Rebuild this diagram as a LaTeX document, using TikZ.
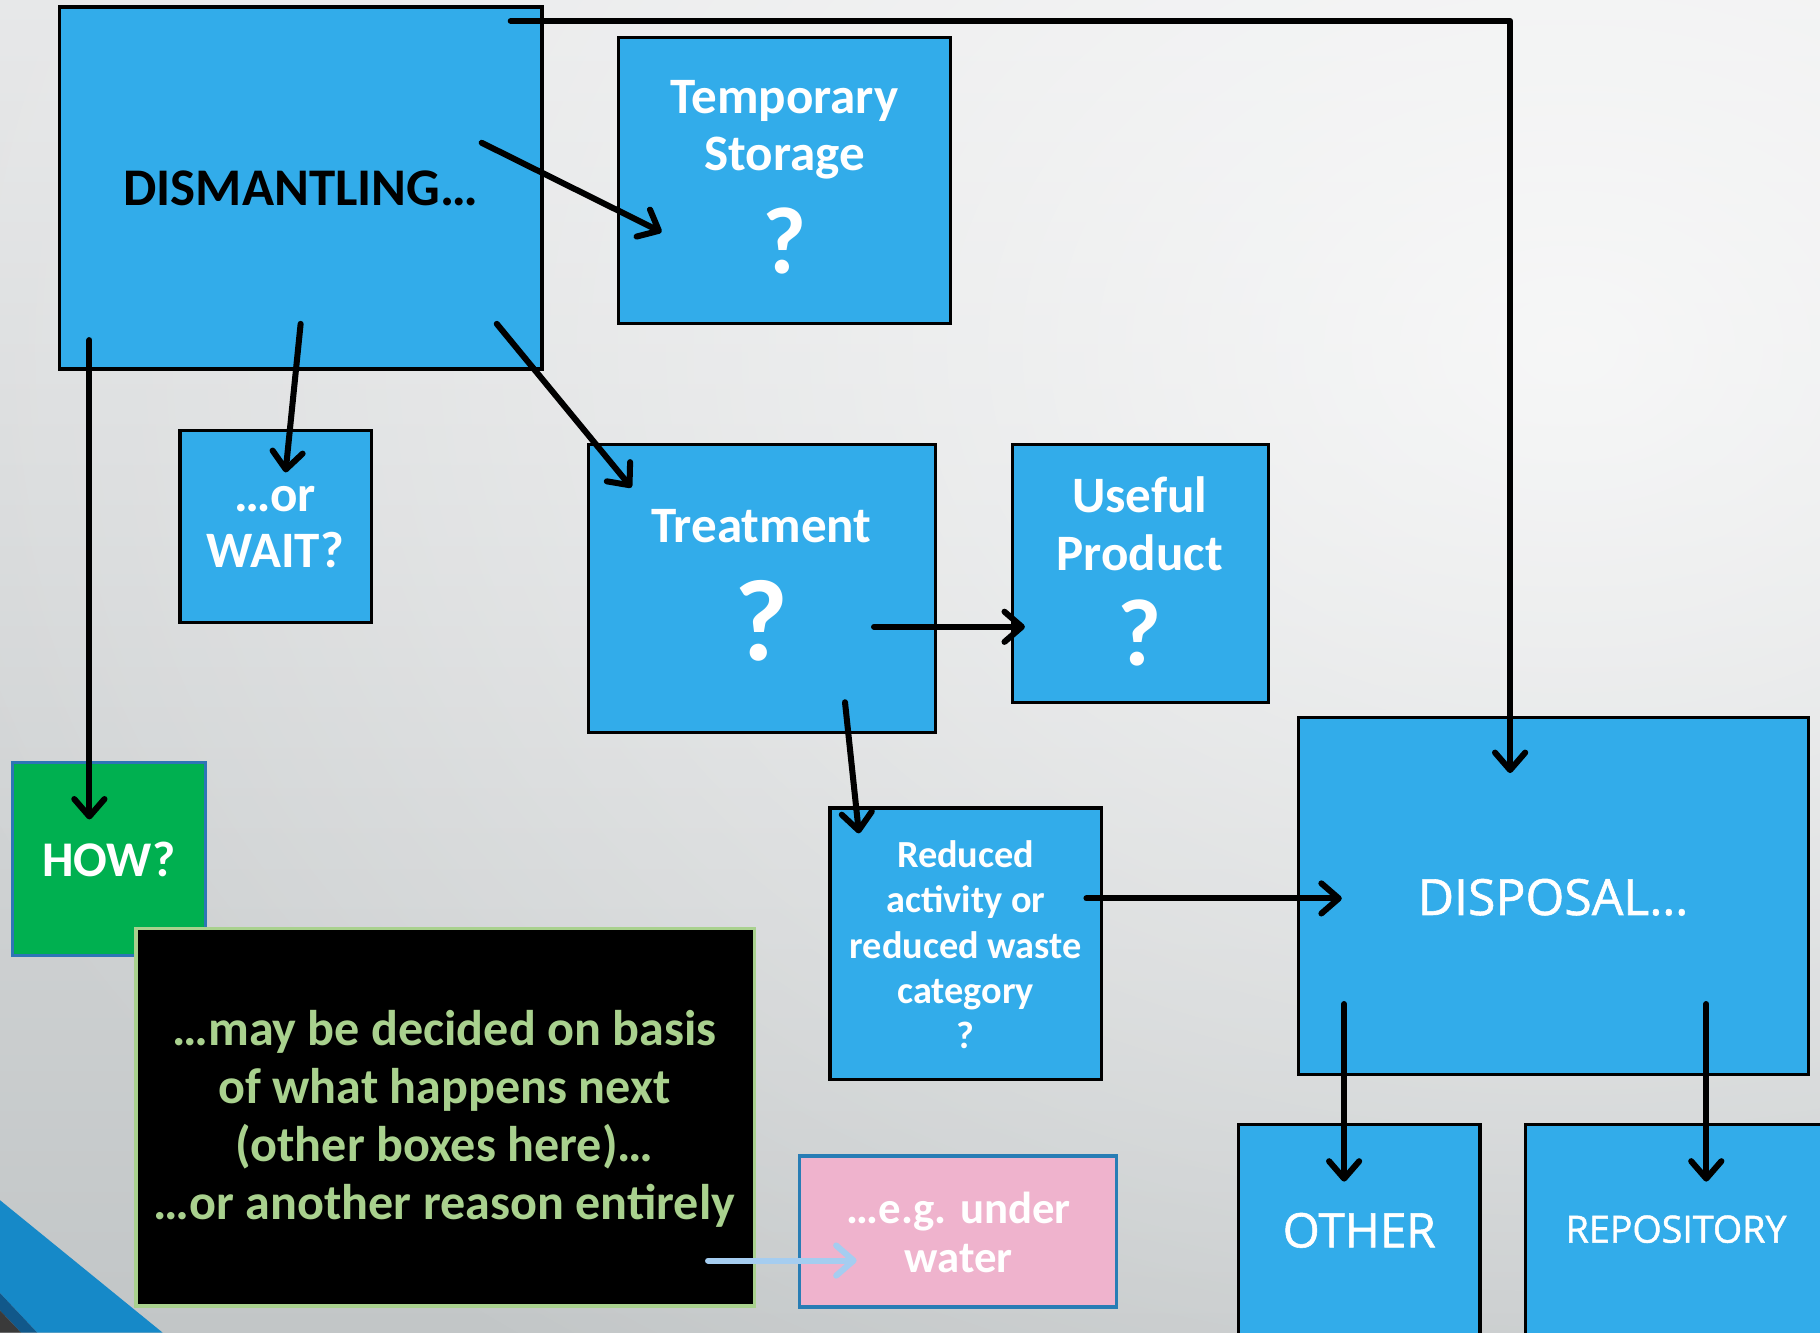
\documentclass[tikz,border=0pt]{standalone}
\usepackage{fontspec}
\setmainfont{Carlito}
\newfontfamily\capsfont[FakeBold=1.2]{Open Sans}
\usetikzlibrary{arrows.meta,fadings}

\definecolor{boxblue}{RGB}{50,172,234}
\definecolor{howgreen}{RGB}{0,176,80}
\definecolor{edgeblue}{RGB}{46,117,182}
\definecolor{notegreen}{RGB}{169,209,142}
\definecolor{pinkfill}{RGB}{239,179,205}
\definecolor{pinkedge}{RGB}{40,125,181}
\definecolor{lightarrow}{RGB}{165,205,240}
\definecolor{bgtop}{RGB}{230,231,232}
\definecolor{bgmid}{RGB}{222,223,224}
\definecolor{bgbot}{RGB}{194,198,199}
\definecolor{stripeblue}{RGB}{22,137,200}
\definecolor{stripedark}{RGB}{17,88,138}
\definecolor{cornergrey}{RGB}{58,58,58}

% soft radial fall-off for the background highlight
\tikzfading[name=softglow,inner color=transparent!0,outer color=transparent!100]

\begin{document}
\begin{tikzpicture}[x=0.5pt,y=-0.5pt,
  box/.style={draw=black,line width=1.4pt,fill=boxblue,inner sep=0pt,outer sep=0pt},
  lbl/.style={text=white,font=\bfseries\fontsize{22pt}{24.5pt}\selectfont,align=center,inner sep=0pt},
  qmark/.style={text=white,font=\bfseries\fontsize{41pt}{41pt}\selectfont,inner sep=0pt},
  capslbl/.style={text=white,font=\capsfont\fontsize{20.5pt}{24pt}\selectfont,inner sep=0pt},
  flow/.style={line width=2.6pt,line cap=round,line join=round,
    -{Straight Barb[length=7.5pt,width=13pt,line cap=round,line join=round]}},
]
\useasboundingbox (0,0) rectangle (1568,1148);
\clip (0,0) rectangle (1568,1148);

% background
\fill[top color=bgtop,middle color=bgmid,bottom color=bgbot] (0,0) rectangle (1568,1148);
\fill[white,opacity=0.75,path fading=softglow]
  (1350,300) ellipse [x radius=1500,y radius=1100];

% corner stripe
\fill[stripeblue] (0,1034) -- (140,1148) -- (32,1148) -- (0,1114) -- cycle;
\fill[stripedark] (0,1114) -- (32,1148) -- (18,1148) -- (0,1129) -- cycle;
\fill[cornergrey] (0,1129) -- (18,1148) -- (0,1148) -- cycle;

% boxes
\node[box,minimum width=208pt,minimum height=156pt] (dis) at (259,162) {};
\node[box,minimum width=143pt,minimum height=123.5pt] (tmp) at (676,155.5) {};
\node[box,minimum width=82.5pt,minimum height=82.5pt] (wait) at (237.5,453.5) {};
\node[box,minimum width=149.5pt,minimum height=124pt] (trt) at (656.5,507) {};
\node[box,minimum width=110.5pt,minimum height=111pt] (use) at (982.5,494) {};
\node[box,draw=edgeblue,line width=1.2pt,fill=howgreen,minimum width=83pt,minimum height=83pt] (how) at (94,740) {};
\node[box,draw=notegreen,line width=1.6pt,fill=black,minimum width=266.5pt,minimum height=162.5pt] (note) at (383.5,962.5) {};
\node[box,draw=pinkedge,line width=1.4pt,fill=pinkfill,minimum width=136.5pt,minimum height=65pt] (pink) at (825.5,1061) {};
\node[box,minimum width=117pt,minimum height=117pt] (red) at (832,813) {};
\node[box,minimum width=219.5pt,minimum height=154pt] (disp) at (1338.5,772) {};
\node[box,minimum width=104pt,minimum height=95.5pt] (oth) at (1171,1064.5) {};
\node[box,minimum width=133pt,minimum height=95.5pt] (rep) at (1447,1064.5) {};

% labels
\node[lbl,text=black,font=\bfseries\fontsize{22.8pt}{25pt}\selectfont] (disT) at (259,162) {DISMANTLING…};
\node[lbl] (tmpT) at (676,112) {Temporary\\Storage};
\node[qmark] (tmpQ) at (676,208) {?};
\node[lbl,font=\bfseries\fontsize{22pt}{24pt}\selectfont] (waitT) at (237,454) {…or\\WAIT?};
\node[lbl] (trtT) at (656,453) {Treatment};
\node[qmark,font=\bfseries\fontsize{50pt}{50pt}\selectfont] (trtQ) at (656,535) {?};
\node[lbl,font=\bfseries\fontsize{22pt}{25pt}\selectfont] (useT) at (982,451) {Useful\\Product};
\node[qmark] (useQ) at (982,545) {?};
\node[lbl,font=\bfseries\fontsize{21.5pt}{25pt}\selectfont] (howT) at (94,740) {HOW?};
\node[lbl,text=notegreen,font=\bfseries\fontsize{21.6pt}{25pt}\selectfont] (noteT) at (383,964)
  {…may be decided on basis\\of what happens next\\(other boxes here)…\\…or another reason entirely};
\node[lbl,font=\bfseries\fontsize{19.3pt}{21pt}\selectfont] (pinkT) at (826,1062) {…e.g. under\\water};
\node[lbl,font=\bfseries\fontsize{16.5pt}{19.5pt}\selectfont] (redT) at (832,814)
  {Reduced\\activity or\\reduced waste\\category\\?};
\node[capslbl,font=\capsfont\fontsize{21.5pt}{24pt}\selectfont] (dispT) at (1338,773) {DISPOSAL…};
\node[capslbl] (othT) at (1171,1060) {OTHER};
\node[capslbl,font=\capsfont\fontsize{16.2pt}{19pt}\selectfont] (repT) at (1444,1059) {REPOSITORY};

% connector end points
\coordinate (c1s) at (440,18);
\coordinate (c1e) at (1301,666);
\coordinate (c2s) at (415,123);
\coordinate (c2e) at (570,200);
\coordinate (c3s) at (259,279);
\coordinate (c3e) at (246,407);
\coordinate (c4s) at (428,279);
\coordinate (c4e) at (544,420);
\coordinate (c5s) at (77,293);
\coordinate (c5e) at (77,706);
\coordinate (c6s) at (753,540);
\coordinate (c6e) at (883,540);
\coordinate (c7s) at (728,605);
\coordinate (c7e) at (740,718);
\coordinate (c8s) at (936,774);
\coordinate (c8e) at (1156,774);
\coordinate (c9s) at (1158,865);
\coordinate (c9e) at (1158,1018);
\coordinate (c10s) at (1470,865);
\coordinate (c10e) at (1470,1018);
\coordinate (c11s) at (610,1086);
\coordinate (c11e) at (738,1086);

% connectors
\draw[flow] (c1s) -| (c1e);
\draw[flow] (c2s) -- (c2e);
\draw[flow] (c3s) -- (c3e);
\draw[flow] (c4s) -- (c4e);
\draw[flow] (c5s) -- (c5e);
\draw[flow] (c6s) -- (c6e);
\draw[flow] (c7s) -- (c7e);
\draw[flow] (c8s) -- (c8e);
\draw[flow] (c9s) -- (c9e);
\draw[flow] (c10s) -- (c10e);
\draw[flow,draw=lightarrow] (c11s) -- (c11e);
\end{tikzpicture}
\end{document}
